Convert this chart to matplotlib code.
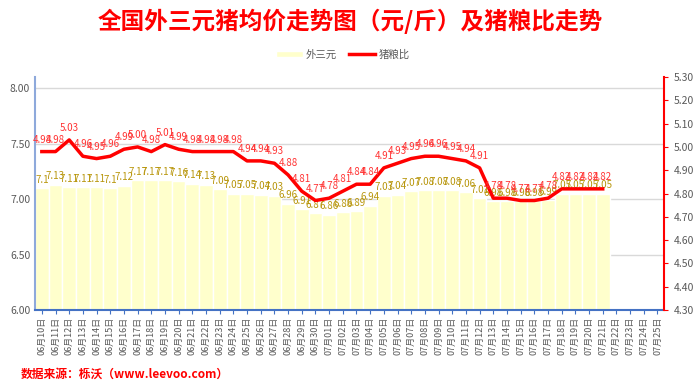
import numpy as np
import matplotlib
matplotlib.use("Agg")
import matplotlib.pyplot as plt

plt.rcParams['font.family'] = ['Noto Sans CJK SC', 'DejaVu Sans']

dates = ["06月%02d日" % d for d in range(10, 31)] + ["07月%02d日" % d for d in range(1, 26)]

price = [7.10, 7.13, 7.11, 7.11, 7.11, 7.10, 7.12, 7.17, 7.17, 7.17,
         7.16, 7.14, 7.13, 7.09, 7.05, 7.05, 7.04, 7.03, 6.96, 6.91,
         6.87, 6.86, 6.88, 6.89, 6.94, 7.03, 7.04, 7.07, 7.08, 7.08,
         7.08, 7.06, 7.01, 6.98, 6.98, 6.98, 6.98, 6.99, 7.05, 7.05,
         7.05, 7.05]

ratio = [4.98, 4.98, 5.03, 4.96, 4.95, 4.96, 4.99, 5.00, 4.98, 5.01,
         4.99, 4.98, 4.98, 4.98, 4.98, 4.94, 4.94, 4.93, 4.88, 4.81,
         4.77, 4.78, 4.81, 4.84, 4.84, 4.91, 4.93, 4.95, 4.96, 4.96,
         4.95, 4.94, 4.91, 4.78, 4.78, 4.77, 4.77, 4.78, 4.82, 4.82,
         4.82, 4.82]

fig = plt.figure(figsize=(7, 3.89), dpi=100)
ax = fig.add_axes([0.05, 0.203, 0.899, 0.599])
ax2 = ax.twinx()

x = np.arange(len(price))
bars = ax.bar(x, price, width=1.0, color='#FFFFCC', edgecolor='white', linewidth=1.0,
              label='外三元', zorder=2)
for xi, v in zip(x, price):
    ax.text(xi, v + 0.03, "%g" % v if v * 10 % 1 == 0 else "%.2f" % v,
            ha='center', va='bottom', fontsize=7, color='#B8960C', zorder=5)

ax2.plot(x, ratio, color='#FF0000', linewidth=2.5, label='猪粮比', zorder=4)
for xi, v in zip(x, ratio):
    ax2.text(xi, v + 0.03, "%.2f" % v, ha='center', va='bottom', fontsize=7,
             color='#FF3333', zorder=5)

ax.set_xlim(-0.5, len(dates) - 0.5)
ax.set_ylim(6.0, 8.1)
ax.set_yticks([6.0, 6.5, 7.0, 7.5, 8.0])
ax.set_yticklabels(["%.2f" % t for t in [6.0, 6.5, 7.0, 7.5, 8.0]])
ax2.set_ylim(4.3, 5.3)
ax2.set_yticks(np.arange(4.3, 5.31, 0.1))
ax2.set_yticklabels(["%.2f" % t for t in np.arange(4.3, 5.31, 0.1)])

ax.set_xticks(np.arange(len(dates)))
ax.set_xticklabels(dates, rotation=90, fontsize=6.5, color='#595959')
ax.tick_params(axis='x', length=3, color='#4472C4', pad=2)
ax.tick_params(axis='y', length=0, labelsize=7.5, labelcolor='#595959')
ax2.tick_params(axis='y', length=3, color='#FF0000', labelsize=7.5, labelcolor='#595959')

ax.yaxis.grid(True, color='#D9D9D9', linewidth=1)
ax.set_axisbelow(True)
for s in ['top', 'right']:
    ax.spines[s].set_visible(False)
ax.spines['left'].set_color('#8EA9DB')
ax.spines['left'].set_linewidth(1.5)
ax.spines['bottom'].set_color('#4472C4')
ax.spines['bottom'].set_linewidth(1.5)
ax2.spines['top'].set_visible(False)
ax2.spines['left'].set_visible(False)
ax2.spines['bottom'].set_visible(False)
ax2.spines['right'].set_color('#FF0000')
ax2.spines['right'].set_linewidth(1.5)

fig.text(0.5, 0.945, '全国外三元猪均价走势图（元/斤）及猪粮比走势', ha='center', va='center',
         fontsize=17, color='#FF0000', fontweight='bold')

h1, l1 = ax.get_legend_handles_labels()
h2, l2 = ax2.get_legend_handles_labels()
fig.legend(h1 + h2, l1 + l2, loc='center', bbox_to_anchor=(0.49, 0.86), ncol=2,
           frameon=False, fontsize=7.5, handlelength=2.5, handleheight=0.6,
           columnspacing=1.2, handletextpad=0.3, labelcolor='#595959')

fig.text(0.03, 0.038, '数据来源：栎沃（www.leevoo.com）', ha='left', va='center',
         fontsize=8.5, color='#FF0000', fontweight='bold')

fig.savefig('out.png', dpi=100)
